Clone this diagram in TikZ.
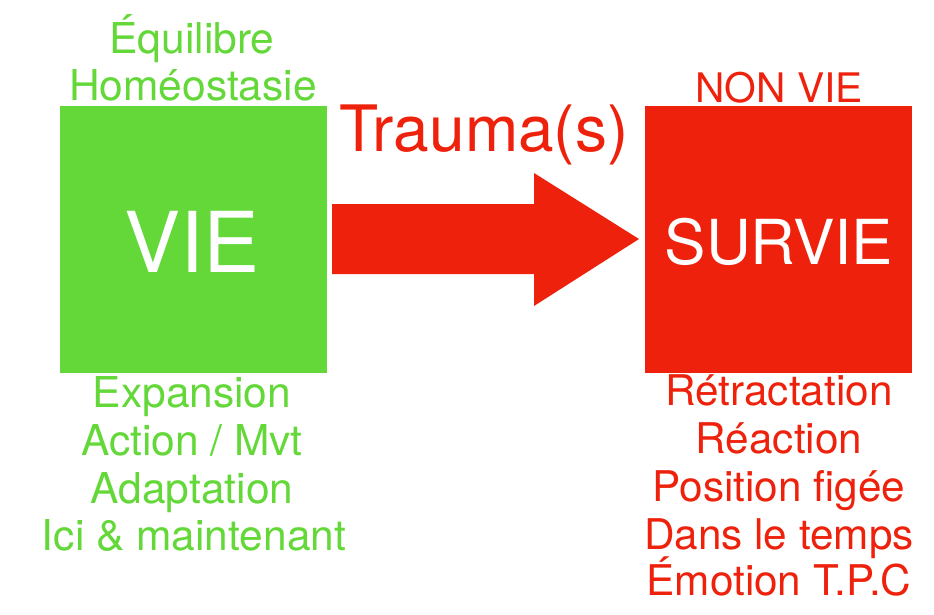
\documentclass[tikz,border=0pt]{standalone}
\usepackage{fontspec}
\setmainfont{TeX Gyre Heros}
\definecolor{vgreen}{RGB}{99,216,56}
\definecolor{vred}{RGB}{238,34,12}
\begin{document}
\begin{tikzpicture}[x=1pt,y=-1pt,
  gtxt/.style={text=vgreen,anchor=base,inner sep=0pt,font=\fontsize{42.5}{48}\selectfont},
  rtxt/.style={text=vred,anchor=base,inner sep=0pt,font=\fontsize{42.3}{48}\selectfont},
  box/.style={draw=none,minimum width=267pt,minimum height=267pt,inner sep=0pt,anchor=north west}]
\useasboundingbox (0,0) rectangle (934,614);
% boxes
\node[box,fill=vgreen] (vie) at (60,106) {};
\node[box,fill=vred] (survie) at (645,106) {};
\node[text=white,anchor=base,inner sep=0pt,font=\fontsize{84}{90}\selectfont] (vielbl) at (192,272) {VIE};
\node[text=white,anchor=base,inner sep=0pt,font=\fontsize{62}{70}\selectfont] (survielbl) at (779,264) {SURVIE};
% arrow
\fill[vred] (332,204) -- (534,204) -- (534,173) -- (639,239) -- (534,306) -- (534,274) -- (332,274) -- cycle;
\node[text=vred,anchor=base,inner sep=0pt,font=\fontsize{64}{70}\selectfont] (trauma) at (484,151) {Trauma(s)};
% top texts
\node[gtxt] (eq) at (192,53) {Équilibre};
\node[gtxt] (hom) at (193,100) {Homéostasie};
\node[rtxt,font=\fontsize{40.7}{46}\selectfont] (nonvie) at (779,102) {NON VIE};
% bottom green
\node[gtxt] (g1) at (192,407) {Expansion};
\node[gtxt] (g2) at (192,455) {Action / Mvt};
\node[gtxt] (g3) at (192,503) {Adaptation};
\node[gtxt] (g4) at (194,550) {Ici \& maintenant};
% bottom red
\node[rtxt] (r1) at (779,405) {Rétractation};
\node[rtxt] (r2) at (779,453) {Réaction};
\node[rtxt] (r3) at (779,501) {Position figée};
\node[rtxt] (r4) at (779,549) {Dans le temps};
\node[rtxt] (r5) at (779,595) {Émotion T.P.C};
\end{tikzpicture}
\end{document}
